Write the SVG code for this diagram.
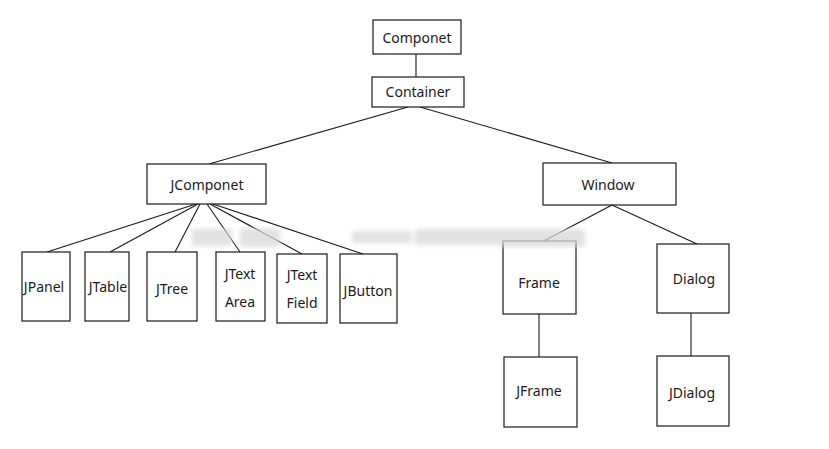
<svg xmlns="http://www.w3.org/2000/svg" width="829" height="449" viewBox="0 0 829 449">
<defs>
<style>
.box{fill:#fff;stroke:#1a1a1a;stroke-width:1.2}
.t{font-family:"Noto Sans","Open Sans","Liberation Sans",sans-serif;font-size:14px;fill:#1a1a1a;text-anchor:middle;dominant-baseline:central}
.c{stroke:#1a1a1a;stroke-width:1.1;fill:none}
.wm{fill:#d8d8d8}
</style>
<filter id="blur"><feGaussianBlur stdDeviation="2.5"/></filter>
</defs>
<rect width="829" height="449" fill="#fff"/>
<g id="connectors">
<line class="c" x1="416" y1="54" x2="416" y2="77"/>
<line class="c" x1="408" y1="107" x2="209" y2="164"/>
<line class="c" x1="420" y1="107" x2="612" y2="163"/>
<line class="c" x1="196" y1="204" x2="47" y2="252"/>
<line class="c" x1="198" y1="204" x2="110" y2="252"/>
<line class="c" x1="200" y1="204" x2="175" y2="252"/>
<line class="c" x1="207" y1="204" x2="240" y2="252"/>
<line class="c" x1="210" y1="204" x2="302" y2="254"/>
<line class="c" x1="213" y1="204" x2="363" y2="254"/>
<line class="c" x1="612" y1="205" x2="540" y2="243"/>
<line class="c" x1="612" y1="205" x2="697" y2="244"/>
<line class="c" x1="539" y1="314" x2="539" y2="357"/>
<line class="c" x1="691" y1="313" x2="691" y2="356"/>
</g>
<g id="n-componet"><rect class="box" x="373" y="20" width="88" height="34"/><text class="t" x="417" y="37">Componet</text></g>
<g id="n-container"><rect class="box" x="372" y="77" width="92" height="30"/><text class="t" x="418" y="91">Container</text></g>
<g id="n-jcomponet"><rect class="box" x="147" y="164" width="119" height="40"/><text class="t" x="207" y="184">JComponet</text></g>
<g id="n-window"><rect class="box" x="543" y="163" width="133" height="42"/><text class="t" x="608" y="184">Window</text></g>
<g id="n-jpanel"><rect class="box" x="22" y="252" width="48" height="69"/><text class="t" x="44" y="286">JPanel</text></g>
<g id="n-jtable"><rect class="box" x="85" y="252" width="44" height="69"/><text class="t" x="108" y="286">JTable</text></g>
<g id="n-jtree"><rect class="box" x="147" y="252" width="50" height="69"/><text class="t" x="172" y="288">JTree</text></g>
<g id="n-jtextarea"><rect class="box" x="216" y="252" width="49" height="69"/><text class="t" x="240" y="273">JText</text><text class="t" x="240" y="301">Area</text></g>
<g id="n-jtextfield"><rect class="box" x="277" y="254" width="50" height="69"/><text class="t" x="302" y="274">JText</text><text class="t" x="302" y="302">Field</text></g>
<g id="n-jbutton"><rect class="box" x="340" y="254" width="57" height="69"/><text class="t" x="368" y="290">JButton</text></g>
<g id="n-frame"><rect class="box" x="503" y="241" width="73" height="73"/><text class="t" x="539" y="282">Frame</text></g>
<g id="n-dialog"><rect class="box" x="657" y="244" width="72" height="69"/><text class="t" x="694" y="278">Dialog</text></g>
<g id="n-jframe"><rect class="box" x="504" y="357" width="73" height="70"/><text class="t" x="539" y="390">JFrame</text></g>
<g id="n-jdialog"><rect class="box" x="657" y="356" width="72" height="70"/><text class="t" x="692" y="392">JDialog</text></g>
<g id="watermark" filter="url(#blur)" opacity="0.75">
<rect class="wm" x="192" y="229" width="40" height="17"/>
<rect class="wm" x="240" y="228" width="40" height="19"/>
<rect class="wm" x="352" y="231" width="60" height="12"/>
<rect class="wm" x="415" y="229" width="85" height="16"/>
<rect class="wm" x="500" y="229" width="85" height="18"/>
</g>
</svg>
